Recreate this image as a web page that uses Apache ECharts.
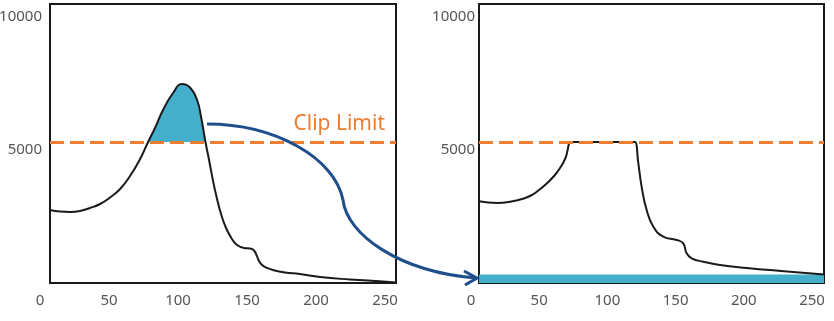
<!DOCTYPE html>
<html>
<head>
<meta charset="utf-8">
<script src="https://cdn.jsdelivr.net/npm/echarts@6/dist/echarts.min.js"></script>
<style>
  html, body { margin: 0; padding: 0; background: #fff; }
  #chart { width: 834px; height: 321px; }
</style>
</head>
<body>
<div id="chart"></div>
<script>
// histogram before clipping (left panel)
const leftX = [7.2, 14.5, 21.7, 29.0, 36.2, 43.5, 50.7, 58.0, 65.2, 72.5, 78.3, 83.3, 89.1, 96.4, 102.9, 108.7,
  113.8, 116.7, 119.9, 122.5, 125.4, 128.3, 131.2, 134.8, 139.1, 142.8, 147.8, 152.2, 155.1, 157.2, 158.7,
  160.9, 163.8, 168.8, 177.5, 188.4, 202.9, 224.6, 248.6, 258]
const leftY = [2745, 2688, 2670, 2707, 2820, 2970, 3215, 3535, 4023, 4662, 5300, 5828, 6505, 7144, 7482, 7351,
  6881, 6242, 5300, 4625, 3835, 3158, 2594, 2068, 1654, 1429, 1316, 1297, 1222, 1015, 827,
  677, 583, 489, 395, 338, 226, 132, 56, 19]

// histogram after clipping + redistribution (right panel)
const rightX = [5.9, 19.3, 31.5, 37.4, 44.0, 49.9, 55.7, 60.9, 65.3, 69.3, 73.3, 75.0, 118.5, 120.2,
  122.7, 125.1, 128.8, 133.7, 141.0, 150.8, 155.6, 158.1, 161.8, 170.3, 182.6, 202.3, 227.3, 258.8]
const rightY = [3071, 3008, 3083, 3158, 3290, 3497, 3749, 4023, 4324, 4700, 5300, 5300, 5300, 5300,
  4500, 3621, 2745, 2118, 1742, 1617, 1492, 1116, 928, 800, 677, 564, 451, 320]

// clipped part spread evenly over all bins
const bandX = [0, 260]
const bandY = [320, 320]

const clipLimit = 5300

const orange = '#ED7D31'
const cyan = '#45AFCB'
const navy = '#1F4E8C'

const zip = (xs, ys) => xs.map((x, i) => [x, ys[i]])
const leftData = zip(leftX, leftY)
const peakData = leftData.filter(p => p[1] >= clipLimit)

const labelStyle = { color: '#555', fontSize: 15, fontFamily: 'Noto Sans' }

const dataX = (grid, min, max) => ({
  type: 'value', gridIndex: grid, min: min, max: max,
  axisLine: { show: false }, axisTick: { show: false }, axisLabel: { show: false }, splitLine: { show: false }
})
const tickX = (grid) => ({
  type: 'value', gridIndex: grid, min: 0, max: 250, interval: 50,
  axisLine: { show: false }, axisTick: { show: false }, splitLine: { show: false },
  axisLabel: Object.assign({ margin: 10, showMinLabel: true, showMaxLabel: true }, labelStyle)
})
const dataY = (grid, margin) => ({
  type: 'value', gridIndex: grid, min: 0, max: 10490, interval: 5000,
  axisLine: { show: false }, axisTick: { show: false }, splitLine: { show: false },
  axisLabel: Object.assign({
    margin: margin, showMinLabel: false, showMaxLabel: false,
    formatter: v => String(v)
  }, labelStyle)
})
const hiddenY = (grid) => ({ type: 'value', gridIndex: grid, min: 0, max: 10490, show: false })

const clipLine = (withLabel) => ({
  silent: true,
  symbol: 'none',
  lineStyle: { color: orange, width: 3, type: [14, 6] },
  label: withLabel ? {
    show: true, position: 'insideEndTop', formatter: 'Clip Limit',
    color: orange, fontSize: 21, fontFamily: 'Noto Sans', distance: [11, 8]
  } : { show: false },
  data: [{ yAxis: clipLimit }]
})

const box = { show: true, borderColor: '#1a1a1a', borderWidth: 2 }
const fixed = { containLabel: false, outerBoundsMode: 'none' }

let myChart = echarts.init(document.getElementById('chart'))

let option = {
  animation: false,
  backgroundColor: '#fff',
  grid: [
    Object.assign({ left: 50, top: 4, width: 346, height: 279 }, box, fixed),
    Object.assign({ left: 40, top: 4, width: 345, height: 279 }, fixed),
    Object.assign({ left: 479, top: 4, width: 345, height: 279 }, box, fixed),
    Object.assign({ left: 471, top: 4, width: 341, height: 279 }, fixed)
  ],
  xAxis: [dataX(0, 7.2, 258), tickX(1), dataX(2, 5.9, 258.8), tickX(3)],
  yAxis: [dataY(0, 8), hiddenY(1), dataY(2, 4), hiddenY(3)],
  series: [
    {
      name: 'excess',
      type: 'line', xAxisIndex: 0, yAxisIndex: 0,
      data: peakData, smooth: 0.5, symbol: 'none', z: 2,
      lineStyle: { width: 0 },
      areaStyle: { color: cyan, opacity: 1, origin: clipLimit }
    },
    {
      name: 'before',
      type: 'line', xAxisIndex: 0, yAxisIndex: 0,
      data: leftData, smooth: 0.5, symbol: 'none', z: 3,
      lineStyle: { color: '#1a1a1a', width: 2 },
      markLine: clipLine(true)
    },
    {
      name: 'redistributed',
      type: 'line', xAxisIndex: 2, yAxisIndex: 2,
      data: zip(bandX, bandY), symbol: 'none', z: 2,
      lineStyle: { width: 0 },
      areaStyle: { color: cyan, opacity: 1, origin: 'start' }
    },
    {
      name: 'after',
      type: 'line', xAxisIndex: 2, yAxisIndex: 2,
      data: zip(rightX, rightY), smooth: 0.5, symbol: 'none', z: 3,
      lineStyle: { color: '#1a1a1a', width: 2 },
      markLine: clipLine(false)
    }
  ],
  // arrow from the clipped peak to the redistributed band
  graphic: [
    {
      type: 'bezierCurve', z: 10, silent: true,
      shape: { x1: 207, y1: 124, cpx1: 275, cpy1: 124, cpx2: 335, cpy2: 158, x2: 343, y2: 200 },
      style: { stroke: navy, lineWidth: 3, fill: null }
    },
    {
      type: 'bezierCurve', z: 10, silent: true,
      shape: { x1: 343, y1: 200, cpx1: 347, cpy1: 235, cpx2: 400, cpy2: 272, x2: 476, y2: 278 },
      style: { stroke: navy, lineWidth: 3, fill: null }
    },
    {
      type: 'polyline', z: 10, silent: true,
      shape: { points: [[464, 271], [477, 278], [465, 285]] },
      style: { stroke: navy, lineWidth: 3, fill: null }
    }
  ]
}

myChart.setOption(option)
</script>
</body>
</html>
